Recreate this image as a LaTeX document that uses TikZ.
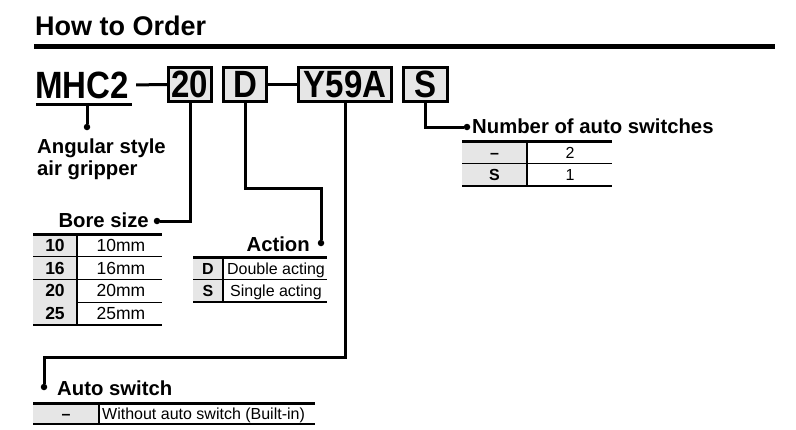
\documentclass[tikz,border=0pt]{standalone}
\usepackage{fontspec}
\setmainfont{Liberation Sans}
\newfontfamily\codefont[FakeStretch=0.87]{Liberation Sans}
\usetikzlibrary{calc,positioning}
\definecolor{ordergrey}{RGB}{230,230,230}
\tikzset{
    codebox/.style={draw=black, line width=3pt, fill=ordergrey, minimum height=34pt, inner sep=0pt, font=\codefont\fontsize{38}{38}\selectfont\bfseries},
    leadline/.style={line width=3pt},
    legdot/.style={circle, fill=black, inner sep=0pt, minimum size=6.5pt},
    legtitle/.style={inner sep=0pt, font=\fontsize{20.3}{22}\selectfont\bfseries},
    keycell/.style={fill=ordergrey, inner sep=0pt, text height=13pt, text depth=1pt, font=\fontsize{16}{16}\selectfont\bfseries},
    valcell/.style={inner sep=0pt, text height=13pt, text depth=1pt, font=\fontsize{16}{16}\selectfont},
    headrule/.style={line width=3pt},
    rowrule/.style={line width=1.2pt}
}
\begin{document}
\begin{tikzpicture}[x=1pt,y=-1pt]
    \useasboundingbox (0,0) rectangle (796,429);
    % Heading
    \node[anchor=base west, inner sep=0pt, font=\fontsize{27}{27}\selectfont\bfseries] (title) at (35,35) {How to Order};
    \draw[line width=5pt] (34,46) -- (775,46);

    % Order code
    \node[anchor=base west, inner sep=0pt, font=\codefont\fontsize{38}{38}\selectfont\bfseries] (mhc) at (35,98) {MHC2};
    \node[codebox, minimum width=43pt] (n20) at (190,84.5)   {20};
    \node[codebox, minimum width=43pt] (nD)  at (245,84.5)   {D};
    \node[codebox, minimum width=93pt] (nY)  at (345,84.5)   {Y59A};
    \node[codebox, minimum width=44pt] (nS)  at (425.5,84.5) {S};
    \draw[leadline] ([xshift=7pt]mhc.east) -- (n20.west);
    \draw[leadline] (nD.east) -- (nY.west);
    \draw[leadline] (36,104) -- (132,104);
    \coordinate (mhcul) at (87,104);

    % Dots and lead lines
    \node[legdot] (dotMhc)  at (87,127)  {};
    \node[legdot] (dotBore) at (157,221) {};
    \node[legdot] (dotAct)  at (321,243) {};
    \node[legdot] (dotAuto) at (44,387)  {};
    \node[legdot] (dotNum)  at (467,127) {};
    \coordinate (actBend)  at (321,188);
    \coordinate (autoBend) at (44,357);
    \draw[leadline] (mhcul) -- (dotMhc);
    \draw[leadline] (n20.south) |- (dotBore);
    \draw[leadline] (nD.south) |- (actBend) -- (dotAct);
    \draw[leadline] (nY.south) |- (autoBend) -- (dotAuto);
    \draw[leadline] (nS.south) |- (dotNum);

    % Legend titles
    \node[legtitle, anchor=north west, align=left] (angular) at (37,139) {Angular style\\air gripper};
    \node[legtitle, anchor=base east] (bore)   at (149,227) {Bore size};
    \node[legtitle, anchor=base east] (action) at (310,251) {Action};
    \node[legtitle, anchor=base west] (auto)   at (57,395)  {Auto switch};
    \node[legtitle, anchor=base west] (number) at (472,133) {Number of auto switches};

    % Bore size table
    \foreach \code/\val [count=\i] in {10/10mm, 16/16mm, 20/20mm, 25/25mm}{
        \pgfmathsetmacro{\yc}{234+22.75*(\i-0.5)}
        \node[keycell, minimum width=44pt, minimum height=22.75pt, font=\fontsize{17.5}{17.5}\selectfont\bfseries] (bore\code) at (55,\yc) {\code};
        \node[valcell, font=\fontsize{17.5}{17.5}\selectfont] (boreval\code) at (121,\yc) {\val};
        \draw[rowrule] (33,\yc+11.375) -- (162,\yc+11.375);
    }
    \draw[rowrule] (77,234) -- (77,325);
    \draw[headrule] (33,234) -- (162,234);

    % Action table
    \foreach \code/\val [count=\i] in {D/Double acting, S/Single acting}{
        \pgfmathsetmacro{\yc}{257+22.5*(\i-0.5)}
        \node[keycell, minimum width=30pt, minimum height=22.5pt] (act\code) at (208,\yc) {\code};
        \node[valcell] (actval\code) at (276,\yc) {\val};
        \draw[rowrule] (193,\yc+11.25) -- (327,\yc+11.25);
    }
    \draw[rowrule] (223,257) -- (223,302);
    \draw[headrule] (193,257) -- (327,257);

    % Number of auto switches table
    \node[keycell, minimum width=65pt, minimum height=22.5pt] (numNone) at (494.5,152.25) {\textendash};
    \node[valcell] (numvalNone) at (570,152.25) {2};
    \node[keycell, minimum width=65pt, minimum height=22.5pt] (numS) at (494.5,174.75) {S};
    \node[valcell] (numvalS) at (570,174.75) {1};
    \draw[rowrule] (462,163.5) -- (612,163.5);
    \draw[rowrule] (462,186) -- (612,186);
    \draw[rowrule] (527,141) -- (527,186);
    \draw[headrule] (462,141) -- (612,141);

    % Auto switch table
    \node[keycell, minimum width=66pt, minimum height=21pt] (autoNone) at (66,413.5) {\textendash};
    \node[valcell, anchor=west] (autovalNone) at (102,413.5) {Without auto switch (Built-in)};
    \draw[rowrule] (33,424) -- (315,424);
    \draw[rowrule] (99,403) -- (99,424);
    \draw[headrule] (33,403) -- (315,403);
\end{tikzpicture}
\end{document}
